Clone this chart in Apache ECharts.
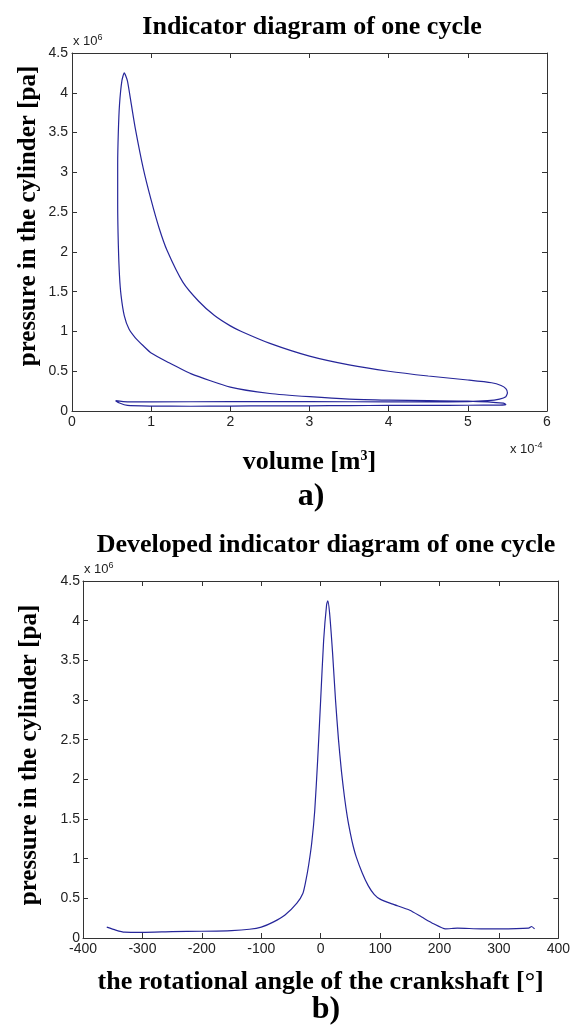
<!DOCTYPE html>
<html>
	<head>
		<meta charset="UTF-8">
		<title>Indicator diagram</title>
		<script src="https://cdn.jsdelivr.net/npm/echarts@6/dist/echarts.min.js"></script>
		<style>
			html, body { margin: 0; padding: 0; background: #fff; }
		</style>
	</head>
	<body>
		<div id="chart" style="width:573px; height:1027px;"></div>
		<script>
			// p-V loop, volume in 1e-4 m^3, pressure in 1e6 Pa
			var loopVolume = [0.55, 0.6, 0.7, 1.0, 1.5, 2.0, 2.5, 3.0, 3.5, 4.0, 4.5, 5.0, 5.4, 5.48,
				5.45, 5.0, 4.5, 4.0, 3.5, 3.0, 2.5, 2.0, 1.5, 1.2, 1.0, 0.9, 0.8, 0.72, 0.66, 0.62, 0.6, 0.585, 0.577, 0.577, 0.585, 0.6, 0.63, 0.66,
				0.7, 0.75, 0.8, 0.9, 1.0, 1.1, 1.2, 1.4, 1.6, 1.8, 2.0, 2.14, 2.5, 3.0, 3.5, 4.0, 4.5, 5.0, 5.3, 5.42, 5.48, 5.5, 5.48, 5.4, 5.25,
				5.0, 4.5, 4.0, 3.0, 2.0, 1.0, 0.7, 0.55];
			var loopPressure = [0.13, 0.1, 0.07, 0.062, 0.06, 0.062, 0.065, 0.065, 0.068, 0.07, 0.07, 0.072, 0.075, 0.08,
				0.1, 0.125, 0.13, 0.137, 0.15, 0.18, 0.22, 0.3, 0.47, 0.62, 0.73, 0.82, 0.92, 1.03, 1.2, 1.45, 1.7, 2.1, 2.6, 3.1, 3.5, 3.85, 4.15, 4.25,
				4.15, 3.85, 3.55, 3.05, 2.65, 2.3, 2.02, 1.62, 1.38, 1.2, 1.07, 1.0, 0.85, 0.69, 0.58, 0.5, 0.44, 0.39, 0.355, 0.32, 0.28, 0.23, 0.18, 0.15, 0.13,
				0.118, 0.115, 0.115, 0.117, 0.117, 0.115, 0.115, 0.13];

			// developed diagram, crank angle in degrees, pressure in 1e6 Pa
			var crankAngle = [-360, -345, -330, -300, -250, -200, -150, -120, -100, -80, -60, -40, -30, -25, -20, -15, -10, -5, 0, 5, 10, 12,
				15, 20, 25, 30, 35, 40, 45, 50, 55, 60, 70, 80, 90, 100, 120, 150, 170, 190, 210, 230, 270, 300, 350, 355, 360];
			var anglePressure = [0.137, 0.1, 0.073, 0.07, 0.08, 0.085, 0.094, 0.11, 0.137, 0.2, 0.29, 0.44, 0.56, 0.72, 0.93, 1.2, 1.6, 2.25, 3.0, 3.75, 4.2, 4.25,
				4.1, 3.6, 3.0, 2.5, 2.1, 1.78, 1.52, 1.32, 1.15, 1.02, 0.82, 0.66, 0.55, 0.49, 0.43, 0.35, 0.265, 0.18, 0.115, 0.124, 0.115, 0.115, 0.124, 0.145, 0.115];

			var lineColor = '#26269a';
			var axisColor = '#333';
			var serif = '"Liberation Serif", "Times New Roman", serif';
			var sans = '"Liberation Sans", Arial, sans-serif';

			function pairs(xs, ys) {
				var out = [];
				for (var i = 0; i < xs.length; i++) out.push([xs[i], ys[i]]);
				return out;
			}

			function boxAxis(gridIndex, position, min, max, interval, showLabel, extra) {
				var ax = {
					type: 'value', gridIndex: gridIndex, position: position,
					min: min, max: max, interval: interval,
					splitLine: { show: false },
					axisLine: { show: true, onZero: false, lineStyle: { color: axisColor, width: 1 } },
					axisTick: { show: true, inside: true, length: 5, lineStyle: { color: axisColor } },
					axisLabel: { show: showLabel, color: '#222', fontFamily: sans, fontSize: 14, margin: 4 }
				};
				for (var k in extra) ax[k] = extra[k];
				return ax;
			}

			var nameStyle = { fontFamily: serif, fontWeight: 'bold', fontSize: 26, color: '#000',
				rich: { sup: { fontFamily: serif, fontWeight: 'bold', fontSize: 14, color: '#000', verticalAlign: 'top', padding: [0, 0, 12, 0] } } };
			var supStyle = { sup: { fontSize: 9, verticalAlign: 'top', padding: [0, 0, 7, 0] } };
			var yNameFont = 'bold 25px ' + serif;

			var chart = echarts.init(document.getElementById('chart'), null, { renderer: 'canvas' });
			chart.setOption({
				animation: false,
				title: [
					{ text: 'Indicator diagram of one cycle', left: 307, top: 9, textAlign: 'center',
						textStyle: { fontFamily: serif, fontWeight: 'bold', fontSize: 26, color: '#000' } },
					{ text: 'Developed indicator diagram of one cycle', left: 321, top: 527, textAlign: 'center',
						textStyle: { fontFamily: serif, fontWeight: 'bold', fontSize: 26, color: '#000' } }
				],
				grid: [
					{ left: 72, right: 26, top: 53, height: 358 },
					{ left: 83, right: 14, top: 581, height: 357 }
				],
				xAxis: [
					boxAxis(0, 'bottom', 0, 6, 1, true, {
						name: 'volume [m{sup|3}]', nameLocation: 'middle', nameGap: 38, nameTextStyle: nameStyle }),
					boxAxis(0, 'top', 0, 6, 1, false, {}),
					boxAxis(1, 'bottom', -400, 400, 100, true, {
						name: 'the rotational angle of the crankshaft [°]', nameLocation: 'middle', nameGap: 31, nameTextStyle: nameStyle }),
					boxAxis(1, 'top', -400, 400, 100, false, {})
				],
				yAxis: [
					boxAxis(0, 'left', 0, 4.5, 0.5, true, {}),
					boxAxis(0, 'right', 0, 4.5, 0.5, false, {}),
					boxAxis(1, 'left', 0, 4.5, 0.5, true, {
						axisLabel: { show: true, color: '#222', fontFamily: sans, fontSize: 14, margin: 3 } }),
					boxAxis(1, 'right', 0, 4.5, 0.5, false, {})
				],
				graphic: [
					{ type: 'text', x: 29, y: 216, rotation: Math.PI / 2,
						style: { text: 'pressure in the cylinder [pa]', font: yNameFont, fill: '#000', textAlign: 'center', textVerticalAlign: 'middle' } },
					{ type: 'text', x: 30, y: 755, rotation: Math.PI / 2,
						style: { text: 'pressure in the cylinder [pa]', font: yNameFont, fill: '#000', textAlign: 'center', textVerticalAlign: 'middle' } },
					{ type: 'text', left: 73, top: 33, style: { text: 'x 10{sup|6}', font: '13px ' + sans, fill: '#222', rich: supStyle } },
					{ type: 'text', left: 510, top: 441, style: { text: 'x 10{sup|-4}', font: '13px ' + sans, fill: '#222', rich: supStyle } },
					{ type: 'text', left: 84, top: 561, style: { text: 'x 10{sup|6}', font: '13px ' + sans, fill: '#222', rich: supStyle } },
					{ type: 'text', x: 311, y: 481, style: { text: 'a)', font: 'bold 32px ' + serif, fill: '#000', textAlign: 'center' } },
					{ type: 'text', x: 326, y: 994, style: { text: 'b)', font: 'bold 32px ' + serif, fill: '#000', textAlign: 'center' } }
				],
				series: [
					{ type: 'line', xAxisIndex: 0, yAxisIndex: 0, data: pairs(loopVolume, loopPressure),
						showSymbol: false, smooth: 0.2, lineStyle: { color: lineColor, width: 1.2 } },
					{ type: 'line', xAxisIndex: 2, yAxisIndex: 2, data: pairs(crankAngle, anglePressure),
						showSymbol: false, smooth: 0.2, lineStyle: { color: lineColor, width: 1.2 } }
				]
			});
		</script>
	</body>
</html>
